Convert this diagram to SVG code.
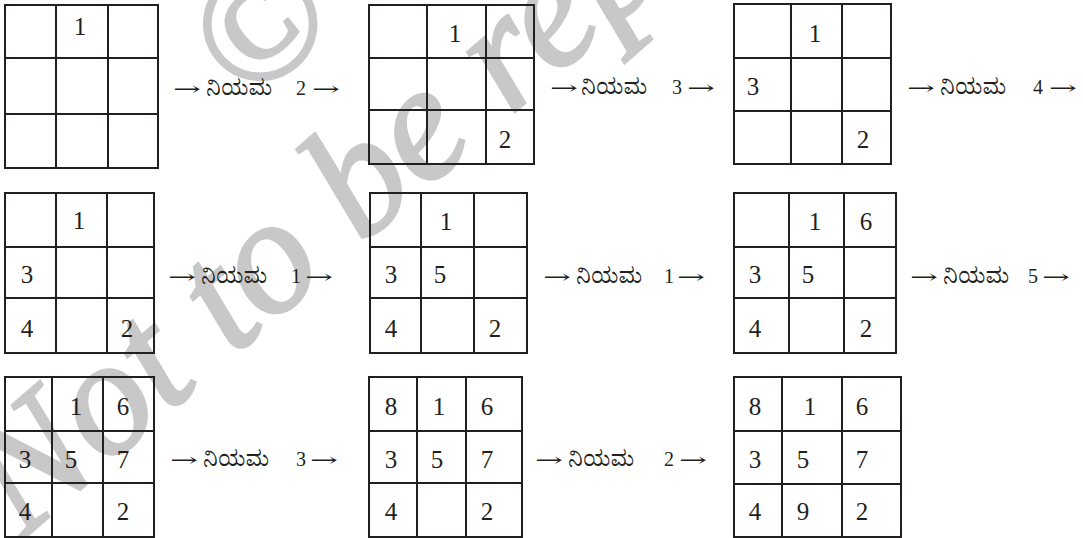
<svg xmlns="http://www.w3.org/2000/svg" width="1083" height="538" viewBox="0 0 1083 538">
<style>
.wm{font-family:"Liberation Serif","Times New Roman",serif;font-style:italic;fill:#c8c8c8;stroke:#c8c8c8;stroke-width:3}
.g{fill:none;stroke:#231f20;stroke-width:2}
.n{font-family:"Liberation Serif","Times New Roman",serif;font-size:25px;fill:#231f20;text-anchor:middle}
.kn{font-family:"Noto Serif Kannada","Noto Sans Kannada",sans-serif;font-size:22px;fill:#231f20}
.d{font-family:"Liberation Serif","Times New Roman",serif;font-size:20px;fill:#231f20}
.ar{font-family:"DejaVu Serif","Liberation Serif",serif;font-size:18px;fill:#231f20}
</style>
<rect width="1083" height="538" fill="#ffffff"/>
<g id="watermark">
<text class="wm" x="257" y="80" font-size="165" text-anchor="middle" transform="rotate(-40 257 24)">©</text>
<text class="wm" font-size="165" transform="translate(22,540) rotate(-41)">Not to be rep</text>
</g>
<g id="grid1">
<path class="g" d="M5,5H158V168H5Z M56,5V168 M108,5V168 M5,58H158 M5,114H158"/>
<text class="n" x="80" y="35">1</text>
</g>
<g id="grid2">
<path class="g" d="M369,5H534V164H369Z M427,5V164 M486,5V164 M369,58H534 M369,110H534"/>
<text class="n" x="455" y="42">1</text>
<text class="n" x="505" y="148">2</text>
</g>
<g id="grid3">
<path class="g" d="M734,4H891V164H734Z M791,4V164 M842,4V164 M734,58H891 M734,111H891"/>
<text class="n" x="815" y="42">1</text>
<text class="n" x="753" y="95">3</text>
<text class="n" x="863" y="148">2</text>
</g>
<g id="grid4">
<path class="g" d="M5,193H154V353H5Z M56,193V353 M107,193V353 M5,247H154 M5,298H154"/>
<text class="n" x="79" y="229">1</text>
<text class="n" x="27" y="283">3</text>
<text class="n" x="27" y="337">4</text>
<text class="n" x="127" y="337">2</text>
</g>
<g id="grid5">
<path class="g" d="M370,193H527V353H370Z M421,193V353 M474,193V353 M370,247H527 M370,298H527"/>
<text class="n" x="446" y="230">1</text>
<text class="n" x="391" y="283">3</text>
<text class="n" x="440" y="283">5</text>
<text class="n" x="391" y="337">4</text>
<text class="n" x="495" y="337">2</text>
</g>
<g id="grid6">
<path class="g" d="M734,193H896V353H734Z M789,193V353 M844,193V353 M734,247H896 M734,298H896"/>
<text class="n" x="815" y="230">1</text>
<text class="n" x="866" y="230">6</text>
<text class="n" x="755" y="283">3</text>
<text class="n" x="808" y="283">5</text>
<text class="n" x="755" y="337">4</text>
<text class="n" x="866" y="337">2</text>
</g>
<g id="grid7">
<path class="g" d="M5,377H154V537H5Z M52,377V537 M103,377V537 M5,431H154 M5,483H154"/>
<text class="n" x="76" y="415">1</text>
<text class="n" x="123" y="415">6</text>
<text class="n" x="25" y="468">3</text>
<text class="n" x="71" y="468">5</text>
<text class="n" x="123" y="468">7</text>
<text class="n" x="25" y="520">4</text>
<text class="n" x="123" y="520">2</text>
</g>
<g id="grid8">
<path class="g" d="M369,377H522V537H369Z M417,377V537 M466,377V537 M369,431H522 M369,483H522"/>
<text class="n" x="391" y="415">8</text>
<text class="n" x="439" y="415">1</text>
<text class="n" x="487" y="415">6</text>
<text class="n" x="391" y="468">3</text>
<text class="n" x="437" y="468">5</text>
<text class="n" x="487" y="468">7</text>
<text class="n" x="391" y="520">4</text>
<text class="n" x="487" y="520">2</text>
</g>
<g id="grid9">
<path class="g" d="M734,377H901V537H734Z M782,377V537 M842,377V537 M734,431H901 M734,484H901"/>
<text class="n" x="755" y="415">8</text>
<text class="n" x="810" y="415">1</text>
<text class="n" x="862" y="415">6</text>
<text class="n" x="755" y="468">3</text>
<text class="n" x="803" y="468">5</text>
<text class="n" x="862" y="468">7</text>
<text class="n" x="755" y="520">4</text>
<text class="n" x="803" y="520">9</text>
<text class="n" x="862" y="520">2</text>
</g>
<g id="connectors">
<g id="rule1">
<text class="ar" x="173" y="95" textLength="28" lengthAdjust="spacingAndGlyphs">→</text>
<text class="kn" x="206" y="95">ನಿಯಮ</text>
<text class="d" x="296" y="95">2</text>
<text class="ar" x="312" y="95" textLength="28" lengthAdjust="spacingAndGlyphs">→</text>
</g>
<g id="rule2">
<text class="ar" x="550" y="94" textLength="28" lengthAdjust="spacingAndGlyphs">→</text>
<text class="kn" x="581" y="94">ನಿಯಮ</text>
<text class="d" x="672" y="94">3</text>
<text class="ar" x="687" y="94" textLength="28" lengthAdjust="spacingAndGlyphs">→</text>
</g>
<g id="rule3">
<text class="ar" x="907" y="94" textLength="28" lengthAdjust="spacingAndGlyphs">→</text>
<text class="kn" x="940" y="94">ನಿಯಮ</text>
<text class="d" x="1033" y="94">4</text>
<text class="ar" x="1049" y="94" textLength="28" lengthAdjust="spacingAndGlyphs">→</text>
</g>
<g id="rule4">
<text class="ar" x="168" y="283" textLength="28" lengthAdjust="spacingAndGlyphs">→</text>
<text class="kn" x="201" y="283">ನಿಯಮ</text>
<text class="d" x="291" y="283">1</text>
<text class="ar" x="305" y="283" textLength="28" lengthAdjust="spacingAndGlyphs">→</text>
</g>
<g id="rule5">
<text class="ar" x="543" y="283" textLength="28" lengthAdjust="spacingAndGlyphs">→</text>
<text class="kn" x="576" y="283">ನಿಯಮ</text>
<text class="d" x="664" y="283">1</text>
<text class="ar" x="677" y="283" textLength="28" lengthAdjust="spacingAndGlyphs">→</text>
</g>
<g id="rule6">
<text class="ar" x="910" y="283" textLength="28" lengthAdjust="spacingAndGlyphs">→</text>
<text class="kn" x="943" y="283">ನಿಯಮ</text>
<text class="d" x="1028" y="283">5</text>
<text class="ar" x="1042" y="283" textLength="28" lengthAdjust="spacingAndGlyphs">→</text>
</g>
<g id="rule7">
<text class="ar" x="170" y="466" textLength="28" lengthAdjust="spacingAndGlyphs">→</text>
<text class="kn" x="203" y="466">ನಿಯಮ</text>
<text class="d" x="296" y="466">3</text>
<text class="ar" x="310" y="466" textLength="28" lengthAdjust="spacingAndGlyphs">→</text>
</g>
<g id="rule8">
<text class="ar" x="535" y="466" textLength="28" lengthAdjust="spacingAndGlyphs">→</text>
<text class="kn" x="568" y="466">ನಿಯಮ</text>
<text class="d" x="664" y="466">2</text>
<text class="ar" x="679" y="466" textLength="28" lengthAdjust="spacingAndGlyphs">→</text>
</g>
</g>
</svg>
